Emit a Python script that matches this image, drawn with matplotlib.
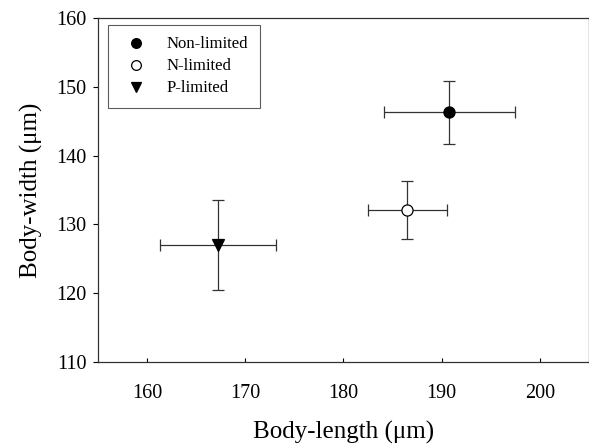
import matplotlib
matplotlib.use("Agg")
import matplotlib.pyplot as plt
from matplotlib.lines import Line2D

labels = ["Non-limited", "N-limited", "P-limited"]
length = [190.8, 186.5, 167.2]
width = [146.3, 132.1, 127.0]
length_err = [6.7, 4.0, 5.9]
width_err = [4.6, 4.2, 6.6]
markers = ["o", "o", "v"]
faces = ["black", "white", "black"]

plt.rcParams['font.family'] = ['Liberation Serif', 'DejaVu Serif']

fig = plt.figure(figsize=(5.89, 4.47), dpi=100)
ax = fig.add_axes([0.166, 0.19, 0.834, 0.77])

handles = []
for lab, x, y, xe, ye, m, fc in zip(labels, length, width, length_err, width_err, markers, faces):
    ax.errorbar(x, y, xerr=xe, yerr=ye, fmt='none', ecolor='#333333',
                elinewidth=0.9, capsize=4, capthick=0.9, zorder=2)
    ax.plot(x, y, marker=m, markersize=8, markerfacecolor=fc,
            markeredgecolor='black', markeredgewidth=0.9, linestyle='none',
            zorder=3)
    handles.append(Line2D([], [], marker=m, markersize=7, markerfacecolor=fc,
                          markeredgecolor='black', markeredgewidth=0.9,
                          linestyle='none', label=lab))

ax.set_xlim(155, 205)
ax.set_ylim(110, 160)
ax.set_xticks([160, 170, 180, 190, 200])
ax.set_yticks([110, 120, 130, 140, 150, 160])
ax.tick_params(axis='x', direction='in', labelsize=14.5, pad=16, length=3)
ax.tick_params(axis='y', direction='out', labelsize=14.5, pad=4.5, length=3.5)
ax.set_xlabel("Body-length (\u03bcm)", fontsize=18, labelpad=13)
ax.set_ylabel("Body-width (\u03bcm)", fontsize=18, labelpad=10)
for s in ax.spines.values():
    s.set_linewidth(0.9)
    s.set_color('#333333')

leg = ax.legend(handles=handles, loc='upper left', fontsize=12, frameon=True,
                fancybox=False, edgecolor='#333333', borderpad=0.7,
                handlelength=2.0, handletextpad=0.85, labelspacing=0.36,
                borderaxespad=0, bbox_to_anchor=(0.02, 0.98))
leg.get_frame().set_linewidth(0.8)

fig.savefig("out.png", dpi=100)
